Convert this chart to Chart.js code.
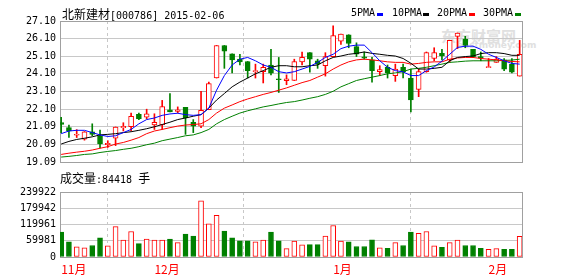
<!DOCTYPE html>
<html>
<head>
<meta charset="utf-8">
<script src="https://cdn.jsdelivr.net/npm/chart.js@4/dist/chart.umd.min.js"></script>
<style>
  html, body { margin: 0; padding: 0; background: #fff; }
  #wrap { position: relative; width: 578px; height: 276px; overflow: hidden; }
  canvas { position: absolute; left: 0; }
  #price { top: 0; }
  #vol { top: 182px; }
  .txt { position: absolute; white-space: nowrap; color: #000; font: 12px "Noto Sans CJK SC"; line-height: 14px; }
  .mono { font: 10px "DejaVu Sans Mono"; }
  .key { position: absolute; width: 6px; height: 3px; top: 13px; }
  .wm { position: absolute; white-space: nowrap; color: #e2e2e2; font-weight: bold; }
</style>
</head>
<body>
<div id="wrap">
  <div class="wm" style="left:441px;top:25px;font:bold 15px 'Noto Sans CJK SC';color:#e0e0e0">东方财富网</div>
  <div class="wm" style="left:457px;top:40px;font:bold 9px 'DejaVu Sans';color:#e0e0e0">eastmoney.com</div>
  <canvas id="price" width="578" height="172"></canvas>
  <canvas id="vol" width="578" height="94"></canvas>
  <div class="txt" style="left:62px;top:7px">北新建材<span class="mono">[000786] 2015-02-06</span></div>
  <div class="txt mono" style="left:351px;top:7px">5PMA</div><div class="key" style="left:377px;background:#0000ff"></div>
  <div class="txt mono" style="left:392px;top:7px">10PMA</div><div class="key" style="left:423px;background:#000"></div>
  <div class="txt mono" style="left:437px;top:7px">20PMA</div><div class="key" style="left:469px;background:#ff0000"></div>
  <div class="txt mono" style="left:483px;top:7px">30PMA</div><div class="key" style="left:515px;background:#008000"></div>
  <div class="txt" style="left:60px;top:171px">成交量<span class="mono">:84418 </span>手</div>
</div>
<script>
const MONTH_INDEX = [0, 12, 35, 55];
const MONTH_LABELS = ["11月", "12月", "1月", "2月"];
const PRICE_TICKS = [19.09, 20.09, 21.09, 22.10, 23.10, 24.10, 25.10, 26.10, 27.10];
const VOLUME_TICKS = [0, 59981, 119961, 179942, 239922];

const OPEN = [
  21.33, 21.04, 20.61, 20.39, 20.80, 20.58, 20.07, 20.44, 21.04, 21.09,
  21.80, 21.63, 21.19, 21.19, 22.06, 21.97, 22.19, 21.35, 21.13, 22.06,
  23.86, 25.71, 25.23, 24.93, 24.80, 24.22, 24.22, 24.60, 23.82, 23.71,
  23.72, 24.78, 25.30, 24.84, 24.56, 25.08, 25.95, 26.32, 25.64, 25.06,
  24.89, 24.22, 24.47, 24.00, 24.47, 23.86, 23.22, 24.22, 24.97, 25.26,
  24.89, 26.23, 26.08, 25.49, 25.08, 24.45, 24.75, 24.89, 24.65, 23.97,
];
const HIGH = [
  21.63, 21.19, 20.93, 20.82, 21.26, 20.91, 20.30, 21.08, 21.32, 21.87,
  21.87, 22.09, 21.83, 22.59, 22.97, 22.22, 22.19, 21.50, 23.11, 23.63,
  25.71, 25.71, 25.23, 25.21, 24.80, 24.65, 24.65, 25.49, 25.03, 24.04,
  24.93, 25.34, 25.30, 24.93, 25.30, 26.82, 26.36, 26.32, 25.86, 25.34,
  25.03, 24.56, 24.60, 24.65, 24.65, 24.37, 24.37, 25.34, 25.58, 25.49,
  26.00, 26.42, 26.23, 25.49, 25.34, 24.97, 25.08, 24.97, 24.97, 26.00,
];
const LOW = [
  20.76, 20.48, 20.48, 20.33, 20.58, 19.89, 19.92, 20.02, 20.85, 20.85,
  21.50, 21.54, 20.94, 20.94, 21.93, 21.87, 20.66, 20.76, 21.04, 22.06,
  23.86, 24.41, 24.15, 24.60, 23.86, 23.86, 23.58, 24.04, 23.04, 23.48,
  23.72, 24.60, 24.19, 24.41, 23.97, 25.08, 25.77, 25.58, 25.08, 24.93,
  23.63, 24.00, 23.86, 23.67, 23.86, 21.93, 22.80, 24.19, 24.84, 24.89,
  24.75, 25.53, 25.58, 25.03, 24.84, 24.45, 24.75, 24.28, 24.15, 23.97,
];
const CLOSE = [
  21.22, 20.85, 20.66, 20.80, 20.66, 20.11, 20.15, 21.08, 21.11, 21.69,
  21.55, 21.83, 21.35, 22.24, 21.94, 22.06, 21.59, 21.13, 22.02, 23.54,
  25.71, 25.38, 24.89, 24.78, 24.28, 24.28, 24.47, 24.14, 23.76, 23.82,
  24.80, 25.03, 24.93, 24.65, 25.08, 26.27, 26.36, 25.82, 25.21, 24.99,
  24.28, 24.34, 24.15, 24.37, 24.22, 22.61, 24.22, 25.30, 25.30, 25.11,
  26.00, 26.42, 25.71, 25.08, 24.99, 24.50, 24.93, 24.37, 24.19, 25.21,
];
const VOLUME = [
  91733, 56451, 37750, 34223, 42338, 70564, 41280, 111844, 62449, 94203,
  49395, 65977, 62449, 62449, 65977, 52923, 84677, 77620, 207105, 122428,
  154182, 95261, 70564, 59979, 59979, 56451, 62449, 91733, 59979, 30695,
  58921, 44808, 45867, 45867, 77620, 116431, 58921, 56451, 38810, 38810,
  63508, 34223, 31754, 52923, 42338, 91733, 87147, 94203, 41280, 35282,
  52923, 62449, 42338, 42338, 31754, 28226, 30695, 28226, 28226, 76000,
];
const MA5 = [
  20.70, 20.85, 20.89, 20.89, 20.76, 20.63, 20.54, 20.58, 20.76, 20.94,
  21.26, 21.50, 21.59, 21.74, 21.82, 21.86, 21.78, 21.74, 21.78, 22.15,
  23.17, 24.00, 24.60, 24.93, 25.03, 24.84, 24.60, 24.47, 24.22, 24.15,
  24.22, 24.37, 24.52, 24.75, 25.03, 25.21, 25.53, 25.67, 25.73, 25.73,
  25.30, 24.84, 24.47, 24.28, 24.21, 24.00, 24.00, 24.28, 24.49, 24.82,
  25.21, 25.60, 25.67, 25.67, 25.49, 25.21, 25.03, 24.84, 24.69, 24.65,
];
const MA10 = [
  20.11, 20.26, 20.37, 20.44, 20.52, 20.63, 20.66, 20.70, 20.76, 20.81,
  20.89, 20.98, 21.09, 21.22, 21.35, 21.50, 21.59, 21.69, 21.78, 22.15,
  22.61, 22.98, 23.36, 23.63, 23.86, 24.10, 24.28, 24.47, 24.56, 24.56,
  24.50, 24.50, 24.56, 24.60, 24.84, 25.03, 25.11, 25.21, 25.26, 25.34,
  25.26, 25.21, 25.15, 25.11, 24.97, 24.70, 24.37, 24.37, 24.41, 24.47,
  24.84, 25.03, 25.08, 25.11, 25.25, 25.30, 25.30, 25.25, 25.15, 25.15,
];
const MA20 = [
  19.52, 19.59, 19.65, 19.70, 19.77, 19.87, 19.96, 20.11, 20.20, 20.33,
  20.48, 20.70, 20.85, 20.94, 21.04, 21.13, 21.19, 21.22, 21.26, 21.50,
  21.87, 22.15, 22.33, 22.52, 22.67, 22.80, 22.93, 23.04, 23.17, 23.30,
  23.45, 23.60, 23.72, 23.91, 24.10, 24.37, 24.60, 24.78, 24.89, 24.93,
  24.89, 24.84, 24.78, 24.75, 24.75, 24.65, 24.69, 24.75, 24.78, 24.78,
  24.93, 25.00, 25.03, 25.03, 24.97, 24.93, 24.89, 24.84, 24.80, 24.78,
];
const MA30 = [
  19.37, 19.41, 19.46, 19.52, 19.55, 19.63, 19.69, 19.74, 19.81, 19.87,
  19.96, 20.07, 20.16, 20.30, 20.39, 20.48, 20.58, 20.63, 20.76, 20.94,
  21.26, 21.50, 21.69, 21.87, 22.00, 22.11, 22.22, 22.30, 22.39, 22.47,
  22.52, 22.61, 22.71, 22.80, 22.93, 23.11, 23.36, 23.54, 23.72, 23.82,
  23.91, 24.00, 24.10, 24.15, 24.22, 24.37, 24.41, 24.47, 24.56, 24.65,
  24.75, 24.78, 24.82, 24.84, 24.84, 24.84, 24.84, 24.86, 24.88, 24.93,
];

(function () {
  "use strict";
  const RED = "#ff0000", GREEN = "#008000";
  const FRAME = "#a0a0a0", GRID = "#c8c8c8";
  const X_MIN = -0.15, X_MAX = 59.3;
  const MONO = "'DejaVu Sans Mono'";

  const days = OPEN.map((_, i) => i);
  const up = (i) => CLOSE[i] >= OPEN[i];
  const markColor = days.map((i) => (up(i) ? RED : GREEN));
  const markFill = days.map((i) => (up(i) ? "#ffffff" : GREEN));

  // plot-area frame, like the gray box round both panels
  const framePlugin = {
    id: "frame",
    beforeDatasetsDraw(chart) {
      const a = chart.chartArea, ctx = chart.ctx;
      const l = Math.round(a.left - 0.5) + 0.5, t = Math.round(a.top - 0.5) + 0.5;
      const r = Math.round(a.right - 0.5) + 0.5, b = Math.round(a.bottom - 0.5) + 0.5;
      ctx.save();
      ctx.strokeStyle = FRAME;
      ctx.lineWidth = 1;
      ctx.strokeRect(l, t, r - l, b - t);
      ctx.restore();
    },
  };

  function monthAxis(showLabels) {
    return {
      type: "linear", min: X_MIN, max: X_MAX, offset: false,
      afterBuildTicks: (s) => { s.ticks = MONTH_INDEX.map((v) => ({ value: v })); },
      afterFit: (s) => { s.height = showLabels ? 19 : 0; },
      grid: { color: GRID, drawTicks: false },
      border: { display: false, dash: [3, 3] },
      ticks: {
        display: showLabels, autoSkip: false, maxRotation: 0, align: "start", padding: 5,
        color: RED, font: { family: "'Noto Sans CJK SC'", size: 12 },
        callback: (v, idx) => MONTH_LABELS[idx],
      },
    };
  }

  function valueAxis(min, max, ticks, darkValues, fmt) {
    return {
      position: "left", min: min, max: max,
      afterBuildTicks: (s) => { s.ticks = ticks.map((v) => ({ value: v })); },
      afterFit: (s) => { s.width = 60; },
      grid: {
        drawTicks: false,
        color: (c) => (c.tick && darkValues.includes(c.tick.value) ? FRAME : GRID),
      },
      border: { display: false },
      ticks: { color: "#000", padding: 4, font: { family: MONO, size: 10 }, callback: fmt },
    };
  }

  function maLine(values, color) {
    return {
      type: "line", data: days.map((i) => ({ x: i, y: values[i] })),
      borderColor: color, borderWidth: 1, pointRadius: 0, tension: 0, fill: false, order: 0,
    };
  }

  new Chart(document.getElementById("price").getContext("2d"), {
    type: "bar",
    data: {
      datasets: [
        maLine(MA5, "#0000ff"),
        maLine(MA10, "#000000"),
        maLine(MA20, RED),
        maLine(MA30, GREEN),
        {
          type: "bar", data: days.map((i) => ({ x: i, y: [OPEN[i], CLOSE[i]] })),
          backgroundColor: markFill, borderColor: markColor, borderWidth: 1, borderSkipped: false,
          barThickness: 5, minBarLength: 1, grouped: false, order: 1,
        },
        {
          type: "bar", data: days.map((i) => ({ x: i, y: [LOW[i], HIGH[i]] })),
          backgroundColor: markColor, borderWidth: 0, barThickness: 1, grouped: false, order: 2,
        },
      ],
    },
    options: {
      responsive: false, animation: false,
      layout: { padding: { top: 21, right: 56, bottom: 7, left: 0 } },
      scales: {
        x: monthAxis(false),
        y: valueAxis(19.09, 27.10, PRICE_TICKS, [19.09, 23.10, 27.10], (v) => v.toFixed(2)),
      },
      plugins: { legend: { display: false }, tooltip: { enabled: false } },
    },
    plugins: [framePlugin],
  });

  new Chart(document.getElementById("vol").getContext("2d"), {
    type: "bar",
    data: {
      datasets: [{
        data: days.map((i) => ({ x: i, y: VOLUME[i] })),
        backgroundColor: markFill, borderColor: markColor, borderWidth: 1, borderSkipped: false,
        barThickness: 5, grouped: false,
      }],
    },
    options: {
      responsive: false, animation: false,
      layout: { padding: { top: 7, right: 56, bottom: 0, left: 0 } },
      scales: {
        x: monthAxis(true),
        y: valueAxis(0, 239922, VOLUME_TICKS, [0, 239922], (v) => String(v)),
      },
      plugins: { legend: { display: false }, tooltip: { enabled: false } },
    },
    plugins: [framePlugin],
  });
})();
</script>
</body>
</html>
